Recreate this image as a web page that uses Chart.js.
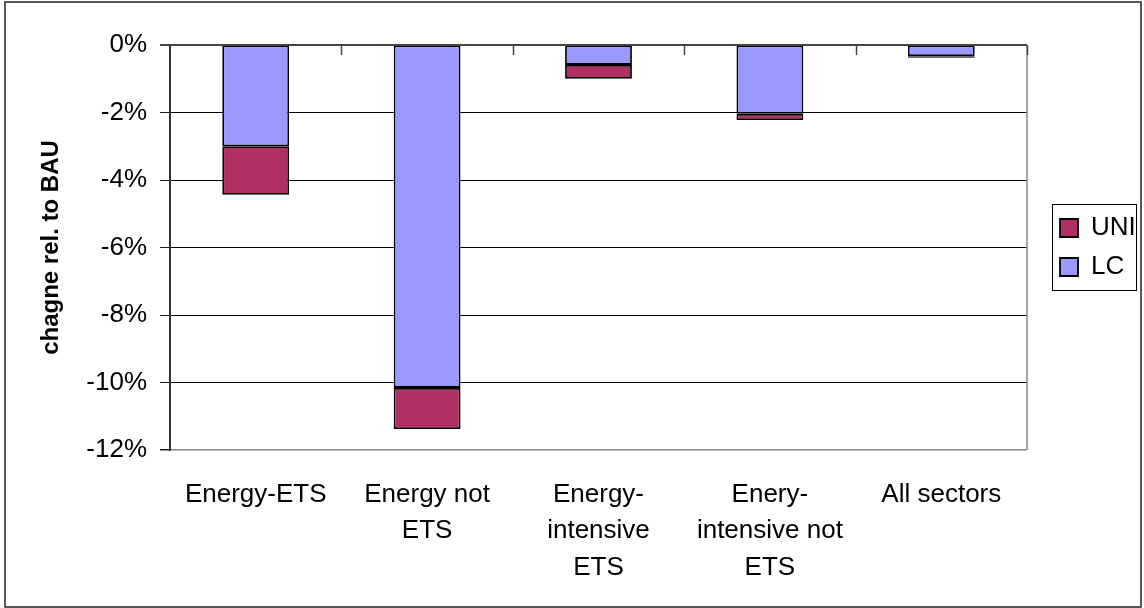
<!DOCTYPE html>
<html>
<head>
<meta charset="utf-8">
<script src="https://cdn.jsdelivr.net/npm/chart.js@4"></script>
<style>
  html, body { margin: 0; padding: 0; background: #fff; }
  #wrap { position: relative; width: 1144px; height: 608px; }
</style>
</head>
<body>
<div id="wrap"><canvas id="c" width="1144" height="608"></canvas></div>
<script>
const categories = [
  ["Energy-ETS"],
  ["Energy not", "ETS"],
  ["Energy-", "intensive", "ETS"],
  ["Enery-", "intensive not", "ETS"],
  ["All sectors"]
];
const lcValues  = [-3.00, -10.16, -0.59, -2.04, -0.33];
const uniValues = [-1.44, -1.22, -0.41, -0.18, -0.05];
const yTicks = [0, -2, -4, -6, -8, -10, -12];

const FONT = "'Liberation Sans', Arial, sans-serif";
Chart.defaults.font.family = FONT;
Chart.defaults.color = '#000';

const frame = {
  id: 'frame',
  beforeDraw(chart) {
    const ctx = chart.ctx;
    ctx.save();
    ctx.fillStyle = '#fff';
    ctx.fillRect(0, 0, chart.width, chart.height);
    ctx.restore();
  },
  afterDraw(chart) {
    const ctx = chart.ctx;
    const a = chart.chartArea;
    const xs = chart.scales.x;
    const ys = chart.scales.y;
    ctx.save();
    ctx.strokeStyle = '#222';
    ctx.lineWidth = 1.5;
    ctx.strokeRect(5, 2, 1136, 605);
    ctx.strokeStyle = '#888';
    ctx.lineWidth = 1.5;
    ctx.beginPath();
    ctx.moveTo(a.right, a.top);
    ctx.lineTo(a.right, a.bottom);
    ctx.stroke();
    const y0 = ys.getPixelForValue(0);
    ctx.strokeStyle = '#444';
    ctx.lineWidth = 1.5;
    const n = chart.data.labels.length;
    const half = (xs.getPixelForValue(1) - xs.getPixelForValue(0)) / 2;
    for (let i = 0; i < n; i++) {
      const xb = Math.round(xs.getPixelForValue(i) + half) + 0.5;
      ctx.beginPath();
      ctx.moveTo(xb, y0);
      ctx.lineTo(xb, y0 + 10);
      ctx.stroke();
    }
    ctx.strokeStyle = '#444';
    ctx.lineWidth = 2;
    ctx.beginPath();
    ctx.moveTo(a.left - 10, y0);
    ctx.lineTo(a.right, y0);
    ctx.stroke();
    ctx.strokeStyle = '#000';
    ctx.lineWidth = 1;
    ctx.strokeRect(1052.5, 204.5, 84, 86);
    ctx.restore();
  }
};

const legendFix = {
  id: 'legendFix',
  afterInit(chart) {
    const lg = chart.legend;
    if (!lg) return;
    const origFit = lg.fit.bind(lg);
    lg.fit = function () {
      origFit();
      this.width = 1144 - 1027;
    };
  },
  afterLayout(chart) {
    const lg = chart.legend;
    if (!lg) return;
    lg.left = 1060 - 13;
    lg.right = lg.left + 90;
    lg.top = 202;
    lg.bottom = 600;
    lg.width = lg.right - lg.left;
    lg.height = lg.bottom - lg.top;
  }
};

new Chart(document.getElementById('c'), {
  type: 'bar',
  data: {
    labels: categories,
    datasets: [
      {
        label: 'LC',
        data: lcValues,
        backgroundColor: '#9999FF',
        borderColor: '#000',
        borderWidth: 1.8,
        borderSkipped: false
      },
      {
        label: 'UNI',
        data: uniValues,
        backgroundColor: '#B03066',
        borderColor: '#000',
        borderWidth: 1.8,
        borderSkipped: false
      }
    ]
  },
  options: {
    responsive: false,
    animation: false,
    layout: { padding: { left: 0, right: 0, top: 45, bottom: 0 } },
    datasets: { bar: { categoryPercentage: 1, barPercentage: 0.39 } },
    plugins: {
      legend: {
        position: 'right',
        align: 'start',
        reverse: true,
        labels: {
          boxWidth: 18,
          boxHeight: 18,
          padding: 13,
          color: '#000',
          font: { size: 26, family: FONT, lineHeight: 1.154 }
        }
      },
      tooltip: { enabled: false },
      title: { display: false }
    },
    scales: {
      x: {
        stacked: true,
        position: 'bottom',
        grid: { display: false, drawTicks: false },
        border: { display: false },
        ticks: {
          autoSkip: false,
          maxRotation: 0,
          minRotation: 0,
          padding: 26,
          color: '#000',
          font: { size: 26, family: FONT, lineHeight: 1.41 }
        },
        afterFit(scale) { scale.height = 608 - 450; }
      },
      y: {
        stacked: true,
        min: -12,
        max: 0,
        afterBuildTicks(scale) {
          scale.ticks = yTicks.map(v => ({ value: v }));
        },
        grid: {
          color: ctx => (ctx.tick && ctx.tick.value === -12) ? '#888' : '#000',
          lineWidth: ctx => (ctx.tick && ctx.tick.value === -12) ? 1.5 : 1,
          tickLength: 10,
          tickColor: '#222',
          drawTicks: true
        },
        border: { display: true, color: '#333', width: 2 },
        ticks: {
          padding: 13,
          color: '#000',
          font: { size: 26, family: FONT },
          callback: v => v + '%'
        },
        title: {
          display: true,
          text: 'chagne rel. to BAU',
          color: '#000',
          font: { size: 24, weight: 'bold', family: FONT },
          padding: { top: 37, bottom: 0 }
        },
        afterFit(scale) { scale.width = 170; }
      }
    }
  },
  plugins: [frame, legendFix]
});
</script>
</body>
</html>
